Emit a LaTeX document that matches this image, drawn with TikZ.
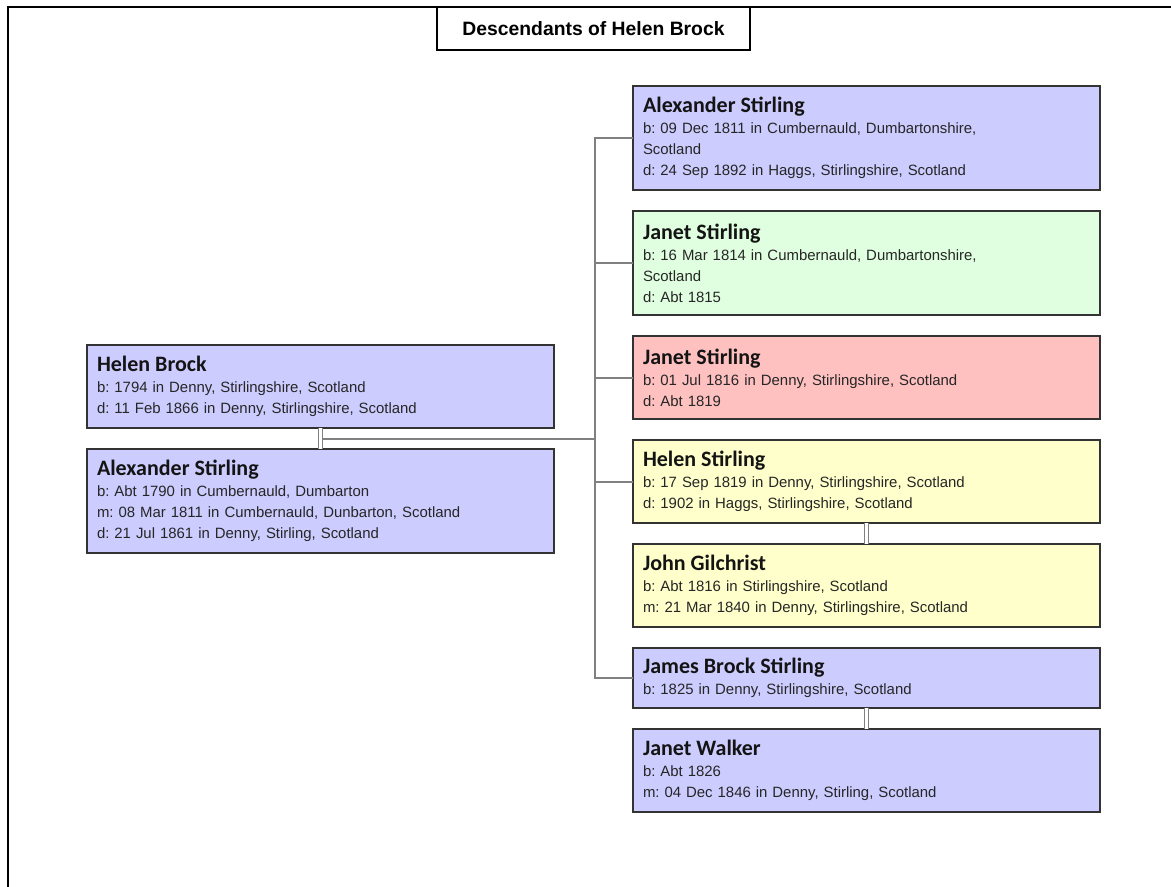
\documentclass[tikz,border=0pt]{standalone}
\usepackage{fontspec}
\setmainfont{Liberation Sans}
\newfontfamily\namefamily{Carlito}
\usetikzlibrary{positioning}
\definecolor{famblue}{RGB}{204,204,255}
\definecolor{famgreen}{RGB}{224,255,224}
\definecolor{famred}{RGB}{255,192,192}
\definecolor{famyellow}{RGB}{255,255,204}
\definecolor{linkgray}{RGB}{128,128,128}
\newcommand{\pname}[1]{{\namefamily\bfseries\fontsize{16.5}{18}\selectfont\color{black!92}#1}}
\frenchspacing

\begin{document}
\begin{tikzpicture}[x=0.75pt, y=-0.75pt, node distance=15.75pt,
  person/.style={draw=black!80, line width=0.8pt, fill=#1, minimum width=350.25pt, text width=335.25pt, inner xsep=7.5pt, inner ysep=2pt, outer sep=0pt, align=left, font=\fontsize{11.2}{15.75}\selectfont, text=black!85},
  one/.style={minimum height=45pt},
  two/.style={minimum height=62.25pt},
  three/.style={minimum height=78pt},
  link/.style={draw=linkgray, line width=1.5pt},
  wed/.style={draw=linkgray, line width=1.1pt, double=white, double distance=1.9pt}]
  \useasboundingbox (0,0) rectangle (1171,886);
  \clip (0,0) rectangle (1171,886);
  \fill[white] (0,0) rectangle (1171,886);
  \draw[line width=1.5pt] (8,7) rectangle (1200,920);
  \node[draw, line width=1.1pt, fill=white, minimum width=234.75pt, minimum height=32.25pt, font=\bfseries\fontsize{14.5}{17}\selectfont] (title) at (593.5,28.5) {Descendants of Helen Brock};

  \node[person=famblue, two, anchor=north west] (hb) at (87,345) {\pname{Helen Brock}\\b: 1794 in Denny, Stirlingshire, Scotland\\d: 11 Feb 1866 in Denny, Stirlingshire, Scotland};
  \node[person=famblue, three, below=of hb] (as) {\pname{Alexander Stirling}\\b: Abt 1790 in Cumbernauld, Dumbarton\\m: 08 Mar 1811 in Cumbernauld, Dunbarton, Scotland\\d: 21 Jul 1861 in Denny, Stirling, Scotland};

  \node[person=famblue, three, anchor=north west] (c1) at (633,86) {\pname{Alexander Stirling}\\b: 09 Dec 1811 in Cumbernauld, Dumbartonshire,\\Scotland\\d: 24 Sep 1892 in Haggs, Stirlingshire, Scotland};
  \node[person=famgreen, three, below=of c1] (c2) {\pname{Janet Stirling}\\b: 16 Mar 1814 in Cumbernauld, Dumbartonshire,\\Scotland\\d: Abt 1815};
  \node[person=famred, two, below=of c2] (c3) {\pname{Janet Stirling}\\b: 01 Jul 1816 in Denny, Stirlingshire, Scotland\\d: Abt 1819};
  \node[person=famyellow, two, below=of c3] (c4) {\pname{Helen Stirling}\\b: 17 Sep 1819 in Denny, Stirlingshire, Scotland\\d: 1902 in Haggs, Stirlingshire, Scotland};
  \node[person=famyellow, two, below=of c4] (c5) {\pname{John Gilchrist}\\b: Abt 1816 in Stirlingshire, Scotland\\m: 21 Mar 1840 in Denny, Stirlingshire, Scotland};
  \node[person=famblue, one, below=of c5] (c6) {\pname{James Brock Stirling}\\b: 1825 in Denny, Stirlingshire, Scotland};
  \node[person=famblue, two, below=of c6] (c7) {\pname{Janet Walker}\\b: Abt 1826\\m: 04 Dec 1846 in Denny, Stirling, Scotland};

  \coordinate (bus) at (595,438.5);
  \draw[wed] (hb.south) -- (as.north);
  \draw[link] ([xshift=1.5pt]hb.south |- bus) -- (bus);
  \draw[link] (c1.west) -- (bus |- c1.west) -- (bus |- c6.west) -- (c6.west);
  \foreach \c in {c2,c3,c4}
    \draw[link] (bus |- \c.west) -- (\c.west);
  \draw[wed] (c4.south) -- (c5.north);
  \draw[wed] (c6.south) -- (c7.north);
\end{tikzpicture}
\end{document}
